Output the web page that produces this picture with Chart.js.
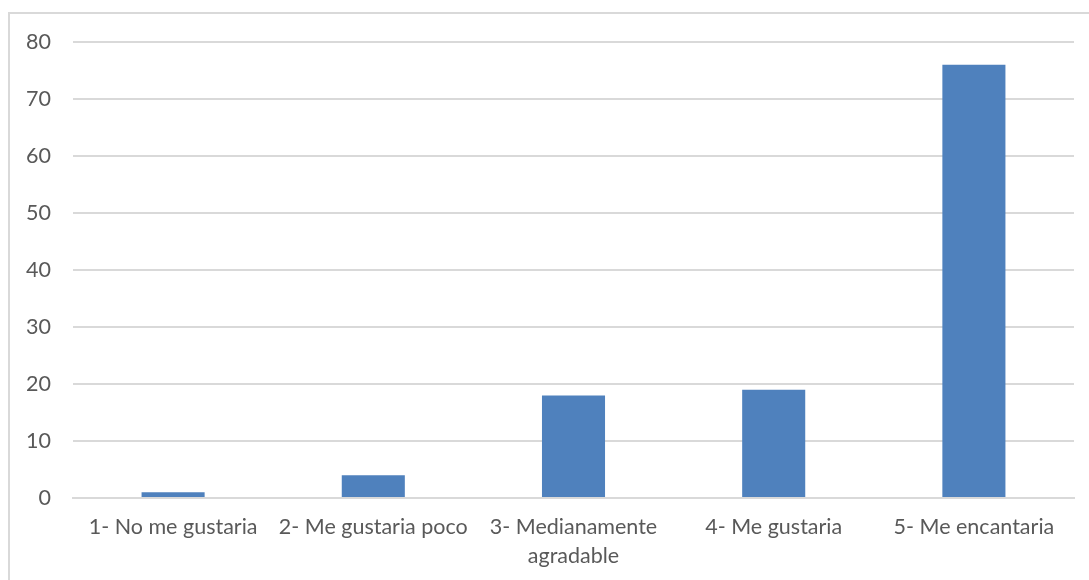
<!DOCTYPE html>
<html><head><meta charset="utf-8">
<script src="https://cdn.jsdelivr.net/npm/chart.js@4.4.0/dist/chart.umd.min.js"></script>
<style>
html,body{margin:0;padding:0;background:#fff;overflow:hidden;}
#frame{position:absolute;left:8px;top:12px;width:1200px;height:700px;border:2px solid #d9d9d9;box-sizing:border-box;}
#wrap{position:absolute;left:0;top:0;width:1089px;height:580px;}
</style></head>
<body>
<div id="frame"></div>
<div id="wrap"><canvas id="c" width="1089" height="580"></canvas></div>
<script>
const categories = ["1- No me gustaria", "2- Me gustaria poco", ["3- Medianamente", "agradable"], "4- Me gustaria", "5- Me encantaria"];
const values = [1, 4, 18, 19, 76];
const yTicks = [0, 10, 20, 30, 40, 50, 60, 70, 80];

const font = {family: "Lato, 'Open Sans', sans-serif", size: 21.5, lineHeight: 1.35};
new Chart(document.getElementById('c'), {
  type: 'bar',
  data: {labels: categories, datasets: [{data: values, backgroundColor: '#4f81bd', barPercentage: 0.315, categoryPercentage: 1}]},
  options: {
    responsive: false, animation: false,
    layout: {padding: {top: 42, right: 15, left: 0, bottom: 0}},
    plugins: {legend: {display: false}, tooltip: {enabled: false}},
    scales: {
      x: {
        grid: {display: false, drawTicks: false},
        border: {display: true, color: '#d9d9d9', width: 2},
        ticks: {color: '#595959', font: font, padding: 15, maxRotation: 0, autoSkip: false},
        afterFit(s) { s.height = 82; }
      },
      y: {
        min: 0, max: 80,
        afterBuildTicks(s) { s.ticks = yTicks.map(v => ({value: v})); },
        grid: {color: '#d9d9d9', lineWidth: 2, drawTicks: false},
        border: {display: false},
        ticks: {color: '#595959', font: font, padding: 22},
        afterFit(s) { s.width = 73; }
      }
    }
  }
});
</script>
</body></html>
